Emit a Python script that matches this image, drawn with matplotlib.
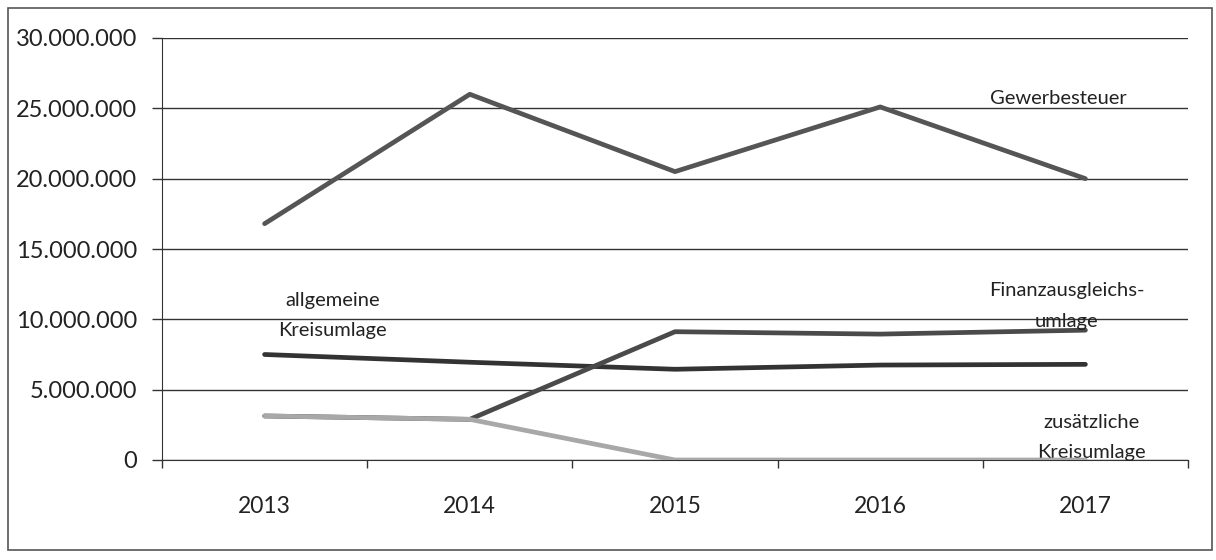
import matplotlib
matplotlib.use("Agg")
import matplotlib.pyplot as plt
from matplotlib.patches import Rectangle
from matplotlib.ticker import FuncFormatter, FixedLocator

# Jahre und Beträge in Euro
jahre = ["2013", "2014", "2015", "2016", "2017"]
gewerbesteuer = [16800000, 26000000, 20500000, 25100000, 20000000]
allgemeine_kreisumlage = [7500000, 6950000, 6450000, 6750000, 6800000]
finanzausgleichsumlage = [3130000, 2890000, 9120000, 8950000, 9230000]
zusaetzliche_kreisumlage = [3130000, 2890000, 0, 0, 0]

plt.rcParams['font.family'] = ['Lato', 'DejaVu Sans']

fig = plt.figure(figsize=(12.16, 5.6), dpi=100)
fig.patch.set_facecolor("white")
# Rahmen um das gesamte Diagramm
fig.patches.append(Rectangle((8 / 1216, 10 / 560), 1204 / 1216, 542 / 560,
                             transform=fig.transFigure, fill=False,
                             edgecolor="#555555", linewidth=1.2))

ax = fig.add_axes([162 / 1216, 1 - 460 / 560, 1026 / 1216, 422 / 560])
x = range(len(jahre))

ax.plot(x, gewerbesteuer, color="#555555", linewidth=3.4, solid_capstyle="round", zorder=3)
ax.plot(x, allgemeine_kreisumlage, color="#333333", linewidth=3.4, solid_capstyle="round", zorder=3)
ax.plot(x, finanzausgleichsumlage, color="#4a4a4a", linewidth=3.4, solid_capstyle="round", zorder=3)
ax.plot(x, zusaetzliche_kreisumlage, color="#a8a8a8", linewidth=3.4, solid_capstyle="round", zorder=4)

ax.set_xlim(-0.5, len(jahre) - 0.5)
ax.set_ylim(0, 30000000)
ax.set_yticks(range(0, 30000001, 5000000))
ax.yaxis.set_major_formatter(FuncFormatter(lambda v, p: f"{int(v):,}".replace(",", ".")))
ax.yaxis.grid(True, color="#333333", linewidth=1.0)
ax.set_axisbelow(True)

ax.set_xticks(list(x))
ax.set_xticklabels(jahre)
ax.xaxis.set_minor_locator(FixedLocator([i - 0.5 for i in range(len(jahre) + 1)]))
ax.tick_params(axis="x", which="major", length=0, pad=26, labelsize=16.5, labelcolor="#222222")
ax.tick_params(axis="x", which="minor", length=6, width=1.0, color="#333333", direction="out")
ax.tick_params(axis="y", length=7, width=1.0, color="#333333", pad=11, labelsize=17,
               labelcolor="#222222")

for side in ["top", "right"]:
    ax.spines[side].set_visible(False)
ax.spines["left"].set_color("#333333")
ax.spines["bottom"].set_color("#333333")

# Beschriftungen der Linien
txt = dict(fontsize=14.5, color="#222222", ha="center", va="center", linespacing=1.95)
ax.text(3.87, 25730000, "Gewerbesteuer", **txt)
ax.text(3.91, 10950000, "Finanzausgleichs-\numlage", **txt)
ax.text(0.33, 10250000, "allgemeine\nKreisumlage", **txt)
ax.text(4.03, 1600000, "zusätzliche\nKreisumlage", **txt)

fig.savefig("out.png", dpi=100, facecolor="white")
